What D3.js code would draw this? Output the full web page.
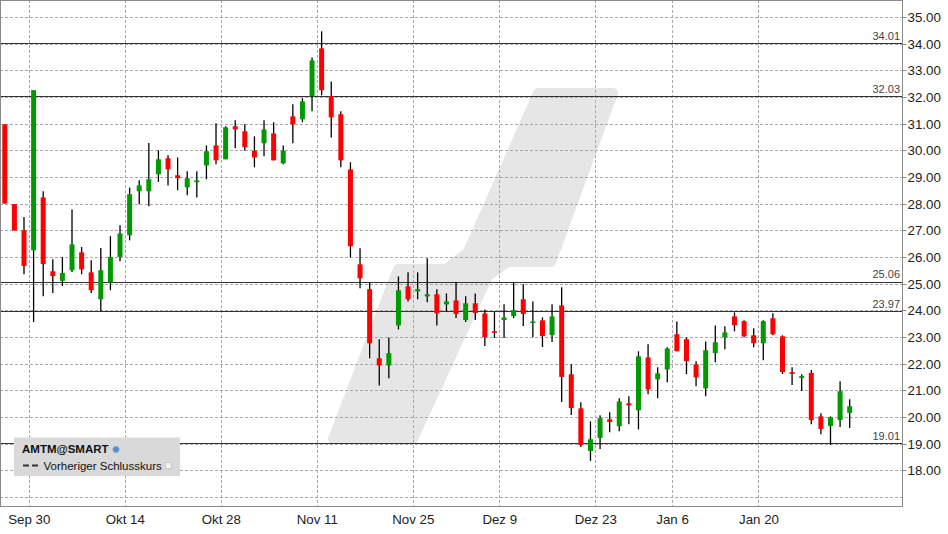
<!DOCTYPE html>
<html><head><meta charset="utf-8">
<script src="https://cdn.jsdelivr.net/npm/d3@7"></script>
<style>html,body{margin:0;padding:0;background:#fff}svg{display:block}</style>
</head><body><svg id="c" width="948" height="534"></svg>
<script>
const dates = ["2024-09-25","2024-09-26","2024-09-27","2024-09-30","2024-10-01","2024-10-02","2024-10-03","2024-10-04","2024-10-07","2024-10-08","2024-10-09","2024-10-10","2024-10-11","2024-10-14","2024-10-15","2024-10-16","2024-10-17","2024-10-18","2024-10-21","2024-10-22","2024-10-23","2024-10-24","2024-10-25","2024-10-28","2024-10-29","2024-10-30","2024-10-31","2024-11-01","2024-11-04","2024-11-05","2024-11-06","2024-11-07","2024-11-08","2024-11-11","2024-11-12","2024-11-13","2024-11-14","2024-11-15","2024-11-18","2024-11-19","2024-11-20","2024-11-21","2024-11-22","2024-11-25","2024-11-26","2024-11-27","2024-11-29","2024-12-02","2024-12-03","2024-12-04","2024-12-05","2024-12-06","2024-12-09","2024-12-10","2024-12-11","2024-12-12","2024-12-13","2024-12-16","2024-12-17","2024-12-18","2024-12-19","2024-12-20","2024-12-23","2024-12-24","2024-12-26","2024-12-27","2024-12-30","2024-12-31","2025-01-02","2025-01-03","2025-01-06","2025-01-07","2025-01-08","2025-01-10","2025-01-13","2025-01-14","2025-01-15","2025-01-16","2025-01-17","2025-01-21","2025-01-22","2025-01-23","2025-01-24","2025-01-27","2025-01-28","2025-01-29","2025-01-30","2025-01-31","2025-02-03"];
const open  = [30.97,27.98,27.00,26.25,28.23,25.46,25.10,25.50,26.17,25.42,24.41,25.04,26.00,26.81,28.46,28.46,29.10,29.70,29.06,28.61,28.80,29.43,30.18,29.66,30.90,30.71,29.98,30.26,30.63,29.51,31.27,31.16,32.02,33.82,32.03,31.35,29.28,25.72,24.79,22.20,21.93,23.43,24.90,24.71,24.52,24.60,24.22,24.37,23.63,24.26,23.88,23.21,23.63,23.78,24.41,23.52,23.62,23.07,24.18,21.60,20.32,18.72,19.21,19.91,19.65,20.51,20.25,22.23,21.41,21.78,23.10,22.91,21.97,21.07,22.39,22.99,23.77,23.59,23.06,22.76,23.70,23.02,21.68,21.46,21.65,20.02,19.66,19.88,20.15];
const high  = [30.97,27.98,27.50,32.25,28.46,25.91,26.00,27.78,26.37,25.87,26.33,26.78,27.19,28.60,28.87,30.27,30.00,29.81,29.73,29.21,29.21,30.18,31.01,30.90,31.12,30.97,30.52,31.12,31.05,30.18,31.72,31.95,33.48,34.46,32.58,31.46,29.55,26.32,25.05,22.91,22.98,25.27,25.42,25.42,25.95,24.79,24.63,25.06,24.52,24.63,24.03,23.93,24.22,25.06,24.97,24.33,23.73,24.22,24.86,21.97,20.55,19.83,20.06,20.17,20.70,20.77,22.46,22.72,21.86,22.61,23.58,22.98,22.09,22.83,23.43,23.40,23.92,23.62,23.32,23.62,23.89,23.06,21.86,21.60,21.76,20.14,20.02,21.34,20.66];
const low   = [28.00,26.99,25.35,23.56,24.52,24.65,24.91,25.43,25.35,24.65,23.96,24.75,25.84,26.62,27.97,27.90,28.81,28.68,28.50,28.31,28.23,28.91,29.47,29.66,30.07,29.98,29.36,29.77,29.62,29.47,30.26,31.05,31.46,32.06,30.48,29.36,25.98,24.82,22.20,21.18,21.45,23.28,24.33,24.41,24.30,23.43,23.96,23.71,23.56,23.63,22.66,22.96,22.96,23.71,23.41,22.99,22.62,22.81,20.56,20.07,18.87,18.35,18.80,19.42,19.46,19.72,19.53,20.85,20.70,21.30,22.46,21.60,21.15,20.77,22.05,22.54,23.21,22.99,22.61,22.12,23.06,21.61,21.20,20.97,19.72,19.35,18.95,19.62,19.58];
const close = [28.00,26.99,25.66,32.25,25.73,25.28,25.40,26.47,25.53,24.75,25.50,26.00,26.88,28.35,28.68,28.91,29.66,29.28,28.95,28.95,28.87,29.96,29.62,30.86,30.78,30.11,29.73,30.78,29.62,29.98,30.97,31.83,33.37,32.25,31.23,29.62,26.40,25.20,22.76,21.93,22.39,24.75,24.41,24.79,24.60,23.88,24.33,23.86,24.26,23.90,22.99,23.15,23.73,24.00,23.86,23.58,23.03,23.77,21.50,20.33,18.95,19.16,19.95,19.81,20.58,20.43,22.27,21.03,21.63,22.57,22.46,22.09,21.48,22.50,22.80,23.17,23.44,23.02,22.76,23.59,23.10,21.68,21.61,21.53,19.88,19.55,19.99,20.96,20.40];
const tickDates  = ["2024-09-30","2024-10-14","2024-10-28","2024-11-11","2024-11-25","2024-12-09","2024-12-23","2025-01-06","2025-01-21"];
const tickLabels = ["Sep 30","Okt 14","Okt 28","Nov 11","Nov 25","Dez 9","Dez 23","Jan 6","Jan 20"];
const yTicks = [18,19,20,21,22,23,24,25,26,27,28,29,30,31,32,33,34,35];
const gridValues = [17,18,19,20,21,22,23,24,25,26,27,28,29,30,31,32,33,34,35];
const levels = [34.01,32.03,25.06,23.97,19.01];
const symbol = "AMTM@SMART";
const legendText = "Vorheriger Schlusskurs";

const W = 948, H = 534;
const plot = {l: 0, r: 902.5, t: 0, b: 506};
const nSlots = 94;
const svg = d3.select("#c");
svg.append("rect").attr("width", W).attr("height", H).attr("fill", "#fff");

const x = d3.scaleBand().domain(d3.range(nSlots)).range([plot.l, plot.r]).padding(0);
const idx = new Map(dates.map((d, i) => [d, i]));
const y = d3.scaleLinear().domain([19.01, 34.01]).range([443.3, 43.3]);

// watermark
const wm = [[538,93],[613,93],[551,262],[508,262],[488,276],[413,439],[333,439],[398,269],[446,269],[468,252]];
svg.append("path").attr("d", d3.line()(wm) + "Z")
  .attr("fill", "#e6e6e6").attr("stroke", "#e6e6e6").attr("stroke-width", 10).attr("stroke-linejoin", "round");

// grid
const g = svg.append("g");
g.selectAll(".hg").data(gridValues).join("line")
  .attr("x1", plot.l).attr("x2", plot.r)
  .attr("y1", d => Math.round(y(d)) + 0.5).attr("y2", d => Math.round(y(d)) + 0.5)
  .attr("stroke", "#a8a8a8").attr("stroke-dasharray", "3,2").attr("stroke-width", 1);
g.selectAll(".vg").data(tickDates).join("line")
  .attr("x1", d => Math.round(x(idx.get(d))) + 0.5).attr("x2", d => Math.round(x(idx.get(d))) + 0.5)
  .attr("y1", plot.t).attr("y2", plot.b)
  .attr("stroke", "#a8a8a8").attr("stroke-dasharray", "3,2").attr("stroke-width", 1);

// level lines
g.selectAll(".lv").data(levels).join("line")
  .attr("x1", plot.l).attr("x2", plot.r)
  .attr("y1", d => Math.round(y(d)) + 0.5).attr("y2", d => Math.round(y(d)) + 0.5)
  .attr("stroke", "#333").attr("stroke-width", 1);
g.selectAll(".lvt").data(levels).join("text")
  .attr("x", 900).attr("y", d => y(d) - 3.5).attr("text-anchor", "end")
  .attr("font-family", "Liberation Sans, Arial, sans-serif").attr("font-size", 11)
  .attr("fill", "#444").text(d => d.toFixed(2));

// candles
const data = dates.map((d, i) => ({d, o: open[i], h: high[i], l: low[i], c: close[i]}));
const bw = x.bandwidth();
const cg = svg.append("g");
cg.selectAll(".wick").data(data).join("line")
  .attr("x1", d => x(idx.get(d.d)) + bw / 2).attr("x2", d => x(idx.get(d.d)) + bw / 2)
  .attr("y1", d => y(d.h)).attr("y2", d => y(d.l))
  .attr("stroke", "#000").attr("stroke-width", 1.3);
cg.selectAll(".body").data(data).join("rect")
  .attr("x", d => x(idx.get(d.d)) + bw / 2 - 2.5).attr("width", 5)
  .attr("y", d => y(Math.max(d.o, d.c)))
  .attr("height", d => Math.max(1.5, Math.abs(y(d.o) - y(d.c))))
  .attr("fill", d => d.c >= d.o ? "#009a00" : "#ff0000");

// frame
svg.append("rect").attr("x", plot.l + 0.5).attr("y", plot.t + 0.5)
  .attr("width", plot.r - plot.l - 0.5).attr("height", plot.b - plot.t)
  .attr("fill", "none").attr("stroke", "#8a8a8a").attr("stroke-width", 1);

// right axis
const ya = svg.append("g");
ya.selectAll(".tk").data(yTicks).join("line")
  .attr("x1", plot.r).attr("x2", plot.r + 4)
  .attr("y1", d => Math.round(y(d)) + 0.5).attr("y2", d => Math.round(y(d)) + 0.5)
  .attr("stroke", "#8a8a8a");
ya.selectAll(".tl").data(yTicks).join("text")
  .attr("x", 907.5).attr("y", d => y(d) + 5)
  .attr("font-family", "Liberation Sans, Arial, sans-serif").attr("font-size", 13.3)
  .attr("fill", "#222").text(d => d.toFixed(2));

// bottom axis labels
svg.selectAll(".xl").data(tickDates).join("text")
  .attr("x", d => x(idx.get(d)) + 0.5).attr("y", 523.5).attr("text-anchor", "middle")
  .attr("font-family", "Liberation Sans, Arial, sans-serif").attr("font-size", 13.3)
  .attr("fill", "#222").text((d, i) => tickLabels[i]);

// legend
const lg = svg.append("g");
lg.append("rect").attr("x", 14).attr("y", 437.5).attr("width", 166).attr("height", 38.5).attr("fill", "#d9d9d9");
lg.append("text").attr("x", 22).attr("y", 453).attr("font-family", "Liberation Sans, Arial, sans-serif")
  .attr("font-size", 11.5).attr("font-weight", "bold").attr("fill", "#111").text(symbol);
lg.append("circle").attr("cx", 116).attr("cy", 449.5).attr("r", 3.2).attr("fill", "#5b8fc7").attr("stroke", "#8fb3d9").attr("stroke-width", 0.8);
lg.append("line").attr("x1", 23).attr("x2", 40).attr("y1", 465.5).attr("y2", 465.5)
  .attr("stroke", "#333").attr("stroke-width", 2).attr("stroke-dasharray", "6,3");
lg.append("text").attr("x", 43.5).attr("y", 469.5).attr("font-family", "Liberation Sans, Arial, sans-serif")
  .attr("font-size", 11.5).attr("fill", "#111").text(legendText);
lg.append("rect").attr("x", 165.5).attr("y", 462.5).attr("width", 6).attr("height", 6)
  .attr("fill", "#f4f4f4").attr("stroke", "#c8c8c8").attr("stroke-width", 1);
</script></body></html>
